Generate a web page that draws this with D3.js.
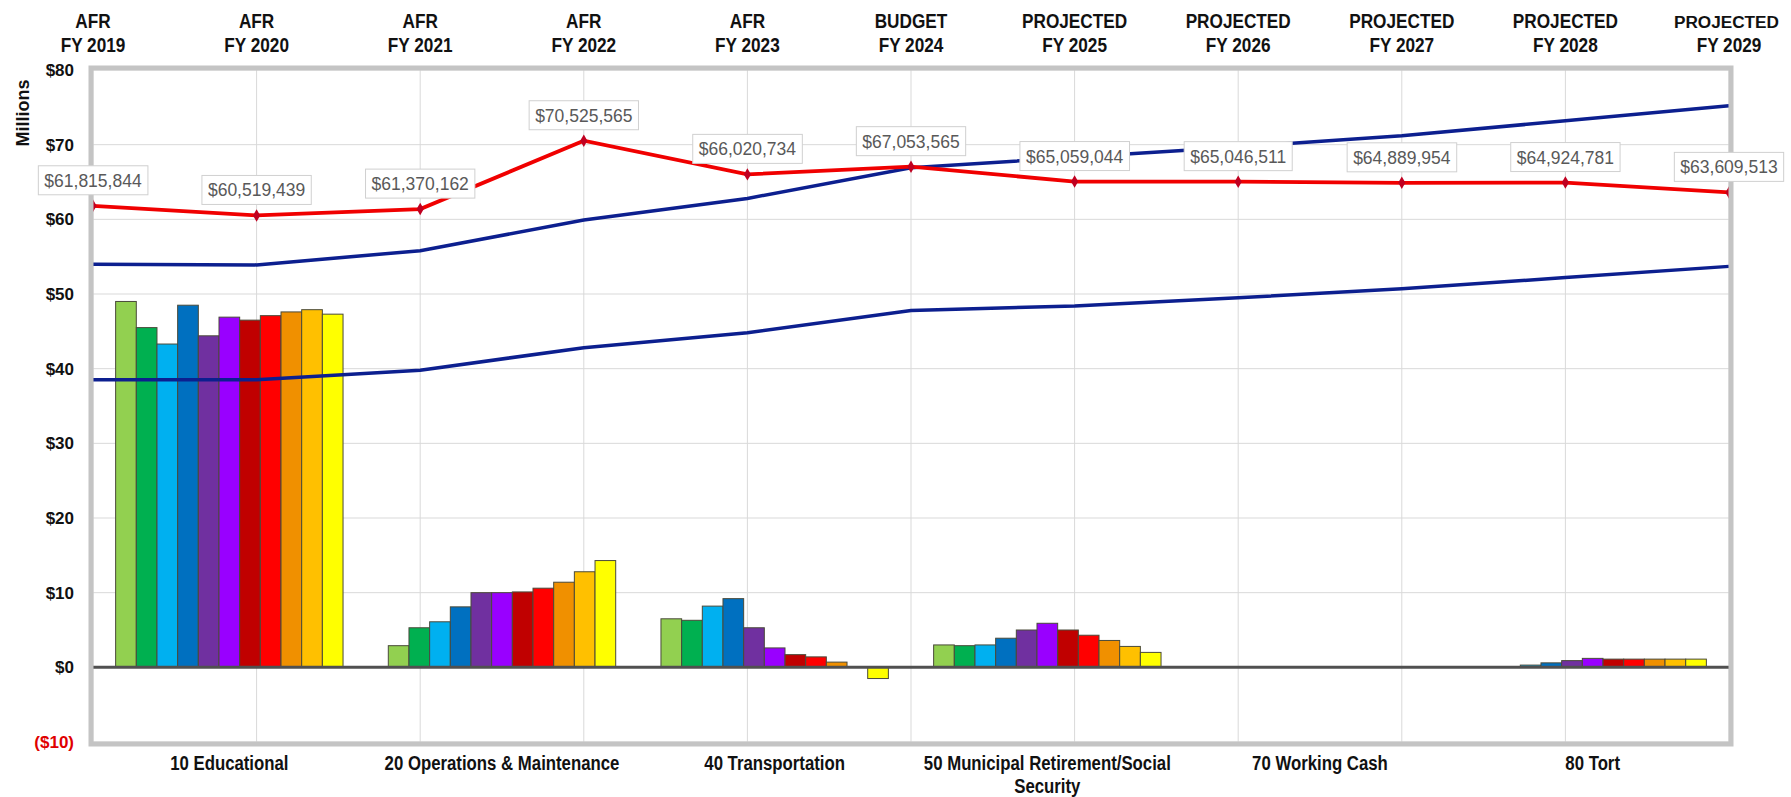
<!DOCTYPE html>
<html>
<head>
<meta charset="utf-8">
<script src="https://cdn.jsdelivr.net/npm/d3@7"></script>
<style>
  body { margin: 0; background: #fff; }
  svg { display: block; }
  .bold { font-family: "Liberation Sans", Arial, sans-serif; font-weight: bold; }
</style>
</head>
<body>
<svg width="1791" height="797"></svg>
<script>
var svg = d3.select("svg");
var width = 1791;
var height = 797;
var margin = { top: 70, right: 62, bottom: 55, left: 93 };
var squeeze = 0.86;   // the chart uses a narrow font, so text gets squeezed sideways

// fiscal years on the top axis (line series)
var yearTypes = ["AFR", "AFR", "AFR", "AFR", "AFR", "BUDGET", "PROJECTED", "PROJECTED", "PROJECTED", "PROJECTED", "PROJECTED"];
var years = ["FY 2019", "FY 2020", "FY 2021", "FY 2022", "FY 2023", "FY 2024", "FY 2025", "FY 2026", "FY 2027", "FY 2028", "FY 2029"];

// funds on the bottom axis (bar groups)
var funds = ["10 Educational", "20 Operations & Maintenance", "40 Transportation",
             "50 Municipal Retirement/Social Security", "70 Working Cash", "80 Tort"];

// bar values per fund, one per fiscal year, in millions
var educational   = [49.0, 45.5, 43.3, 48.5, 44.4, 46.9, 46.5, 47.1, 47.6, 47.9, 47.3];
var operations    = [2.9, 5.3, 6.1, 8.1, 10.0, 10.0, 10.1, 10.6, 11.4, 12.8, 14.3];
var transport     = [6.5, 6.3, 8.2, 9.2, 5.3, 2.6, 1.7, 1.4, 0.7, 0.1, -1.5];
var retirement    = [3.0, 2.9, 3.0, 3.9, 5.0, 5.9, 5.0, 4.3, 3.6, 2.8, 2.0];
var workingCash   = [0, 0, 0, 0, 0, 0, 0, 0, 0, 0, 0];
var tort          = [0, 0, 0.3, 0.6, 0.9, 1.2, 1.1, 1.1, 1.1, 1.1, 1.1];
var fundValues = [educational, operations, transport, retirement, workingCash, tort];

// line series: red one in dollars, blue ones in millions
var totalSpending = [61815844, 60519439, 61370162, 70525565, 66020734, 67053565, 65059044, 65046511, 64889954, 64924781, 63609513];
var upperBlue = [54.0, 53.9, 55.8, 59.9, 62.8, 66.9, 68.3, 69.7, 71.2, 73.2, 75.2];
var lowerBlue = [38.5, 38.5, 39.8, 42.8, 44.8, 47.8, 48.4, 49.5, 50.7, 52.2, 53.7];

var yTicks = [80, 70, 60, 50, 40, 30, 20, 10, 0, -10];
var barColors = ["#92d050", "#00b050", "#00b0f0", "#0070c0", "#7030a0", "#9900ff",
                 "#c00000", "#ff0000", "#f09000", "#ffc000", "#ffff00"];

var x0 = margin.left, x1 = width - margin.right;
var y0 = margin.top, y1 = height - margin.bottom;

var y = d3.scaleLinear().domain([-10, 80]).range([y1, y0]);
var xYear = d3.scalePoint().domain(years).range([x0, x1]);
var xFund = d3.scaleBand().domain(funds).range([x0, x1]).padding(0);
var bw = xFund.bandwidth();
var xBar = d3.scaleBand().domain(years).range([bw * 0.083, bw * 0.917]).padding(0);

// squeeze a text to look like a narrow font
function narrow(sel) {
  sel.each(function() {
    var len = this.getComputedTextLength();
    d3.select(this)
      .attr("textLength", len * squeeze)
      .attr("lengthAdjust", "spacingAndGlyphs");
  });
}

// grid
svg.append("g")
  .selectAll("line")
  .data(yTicks)
  .enter()
  .append("line")
  .attr("x1", x0).attr("x2", x1)
  .attr("y1", d => y(d)).attr("y2", d => y(d))
  .attr("stroke", "#d9d9d9");

svg.append("g")
  .selectAll("line")
  .data(years)
  .enter()
  .append("line")
  .attr("x1", d => xYear(d)).attr("x2", d => xYear(d))
  .attr("y1", y0).attr("y2", y1)
  .attr("stroke", "#d9d9d9");

// bars
var bars = [];
funds.forEach((f, i) => {
  fundValues[i].forEach((v, j) => {
    if (v !== 0) bars.push({ fund: f, year: years[j], value: v, idx: j });
  });
});

svg.append("g")
  .selectAll("rect")
  .data(bars)
  .enter()
  .append("rect")
  .attr("x", d => xFund(d.fund) + xBar(d.year))
  .attr("width", xBar.bandwidth())
  .attr("y", d => y(Math.max(0, d.value)))
  .attr("height", d => Math.abs(y(d.value) - y(0)))
  .attr("fill", d => barColors[d.idx])
  .attr("stroke", "#4a4a3a")
  .attr("stroke-width", 1);

// zero line
svg.append("line")
  .attr("x1", x0).attr("x2", x1)
  .attr("y1", y(0)).attr("y2", y(0))
  .attr("stroke", "#505050")
  .attr("stroke-width", 3);

// blue lines
var blueLine = d3.line()
  .x((d, i) => xYear(years[i]))
  .y(d => y(d));

[upperBlue, lowerBlue].forEach(series => {
  svg.append("path")
    .datum(series)
    .attr("d", blueLine)
    .attr("fill", "none")
    .attr("stroke", "#0c1f8f")
    .attr("stroke-width", 3.5);
});

// red line
var redLine = d3.line()
  .x((d, i) => xYear(years[i]))
  .y(d => y(d / 1e6));

svg.append("path")
  .datum(totalSpending)
  .attr("d", redLine)
  .attr("fill", "none")
  .attr("stroke", "#f00000")
  .attr("stroke-width", 3.8);

svg.selectAll(".marker")
  .data(totalSpending)
  .enter()
  .append("path")
  .attr("class", "marker")
  .attr("d", d3.symbol().type(d3.symbolDiamond).size(45))
  .attr("transform", (d, i) => "translate(" + xYear(years[i]) + "," + y(d / 1e6) + ")")
  .attr("fill", "#c00020");

// plot frame
svg.append("rect")
  .attr("x", x0 - 2).attr("y", y0 - 2)
  .attr("width", x1 - x0 + 4).attr("height", y1 - y0 + 4)
  .attr("fill", "none")
  .attr("stroke", "#c4c4c4")
  .attr("stroke-width", 5);

// data labels: box bottom sits 11px above the point
var fmt = d3.format("$,.0f");
var labelBoxes = svg.append("g");
svg.append("g")
  .selectAll("text")
  .data(totalSpending)
  .enter()
  .append("text")
  .attr("x", (d, i) => xYear(years[i]))
  .attr("y", d => y(d / 1e6) - 19)
  .attr("text-anchor", "middle")
  .attr("font-family", "Liberation Sans, Arial, sans-serif")
  .attr("font-size", "17.5px")
  .attr("fill", "#595959")
  .text(d => fmt(d))
  .each(function(d) {
    var b = this.getBBox();
    labelBoxes.append("rect")
      .attr("x", b.x - 6).attr("y", y(d / 1e6) - 40)
      .attr("width", b.width + 12).attr("height", 29)
      .attr("fill", "#fff")
      .attr("stroke", "#d0d0d0");
  });

// y axis labels
svg.append("g")
  .selectAll("text")
  .data(yTicks)
  .enter()
  .append("text")
  .attr("class", "bold")
  .attr("x", x0 - 19)
  .attr("y", d => y(d) + 6)
  .attr("text-anchor", "end")
  .attr("font-size", "17px")
  .attr("fill", d => d < 0 ? "#e00000" : "#111")
  .text(d => d < 0 ? "($" + Math.abs(d) + ")" : "$" + d);

svg.append("text")
  .attr("class", "bold")
  .attr("transform", "translate(29,113) rotate(-90)")
  .attr("x", 0).attr("y", 0)
  .attr("text-anchor", "middle")
  .attr("font-size", "18px")
  .attr("fill", "#111")
  .text("Millions");

// top axis labels, two lines each
var topLines = [];
years.forEach((yr, i) => {
  topLines.push({ x: xYear(yr), y: 28, text: yearTypes[i] });
  topLines.push({ x: xYear(yr), y: 52, text: yr });
});

svg.append("g")
  .selectAll("text")
  .data(topLines)
  .enter()
  .append("text")
  .attr("class", "bold")
  .attr("x", d => d.x)
  .attr("y", d => d.y)
  .attr("text-anchor", "middle")
  .attr("font-size", "20px")
  .attr("fill", "#111")
  .text(d => d.text)
  .each(function(d) {
    var t = d3.select(this);
    var full = this.getComputedTextLength();
    if (d.x + full * squeeze / 2 > width - 20) {
      // near the edge: use a truly smaller font instead of squeezing
      t.attr("font-size", (20 * squeeze) + "px");
      var w = this.getComputedTextLength();
      t.attr("x", Math.min(d.x, width - 12 - w / 2));
    } else {
      t.call(narrow);
    }
  });

// bottom axis labels, wrapped to band width
var botGroup = svg.append("g");
funds.forEach(f => {
  var cx = xFund(f) + bw / 2;
  var words = f.split(" ");
  var line = [];
  var lineNo = 0;
  var t = botGroup.append("text")
    .attr("class", "bold")
    .attr("x", cx).attr("y", 770)
    .attr("text-anchor", "middle")
    .attr("font-size", "19.5px")
    .attr("fill", "#111");
  words.forEach(w => {
    line.push(w);
    t.text(line.join(" "));
    if (t.node().getComputedTextLength() * squeeze > bw + 2 && line.length > 1) {
      line.pop();
      t.text(line.join(" "));
      line = [w];
      lineNo += 1;
      t = botGroup.append("text")
        .attr("class", "bold")
        .attr("x", cx).attr("y", 770 + lineNo * 23)
        .attr("text-anchor", "middle")
        .attr("font-size", "19.5px")
        .attr("fill", "#111")
        .text(w);
    }
  });
});
botGroup.selectAll("text").call(narrow);
</script>
</body>
</html>
